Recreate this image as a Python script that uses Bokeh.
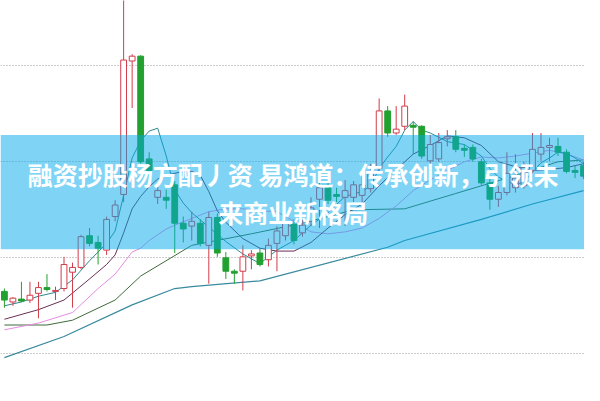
from bokeh.plotting import figure
from bokeh.models import BoxAnnotation, Label, FixedTicker, Range1d
from bokeh.embed import file_html
from bokeh.resources import INLINE

# ---- candle data (price units) ----
opens = [1.65, 1.54, 1.57, 1.56, 1.63, 1.69, 1.65, 1.68, 1.85, 1.90,
         2.23, 2.16, 2.08, 2.43, 2.66, 4.05, 4.10, 3.03, 2.63, 2.63,
         2.76, 2.36, 2.33, 2.36, 2.13, 2.42, 2.00, 1.86, 1.86, 2.02,
         2.05, 1.98, 2.15, 2.23, 2.35, 2.26, 2.38, 2.61, 2.73, 2.66,
         2.63, 2.63, 2.65, 2.72, 2.93, 3.53, 3.30, 3.37, 3.38, 3.37,
         3.01, 3.03, 3.24, 3.26, 3.14, 3.15, 3.00, 2.78, 2.61, 2.68,
         2.73, 2.75, 2.91, 3.08, 3.15, 3.16, 3.10, 2.91, 2.96]
closes = [1.56, 1.58, 1.55, 1.61, 1.69, 1.67, 1.66, 1.93, 1.90, 2.22,
          2.15, 2.10, 2.40, 2.55, 4.06, 4.10, 3.00, 2.91, 2.70, 2.60,
          2.36, 2.30, 2.38, 2.15, 2.42, 2.05, 1.86, 1.84, 2.01, 2.04,
          1.93, 2.13, 2.28, 2.36, 2.18, 2.34, 2.52, 2.73, 2.60, 2.64,
          2.70, 2.76, 2.76, 2.88, 3.53, 3.30, 3.34, 3.58, 3.36, 3.06,
          3.18, 3.20, 3.26, 3.13, 3.12, 3.03, 2.78, 2.61, 2.68, 2.88,
          2.83, 2.94, 3.13, 3.15, 3.17, 3.10, 2.90, 2.89, 2.85]
highs = [1.68, 1.59, 1.75, 1.75, 1.75, 1.83, 1.70, 2.01, 1.95, 2.24,
         2.31, 2.23, 2.43, 2.60, 4.73, 4.12, 4.11, 3.10, 2.78, 2.71,
         2.80, 2.43, 2.48, 2.40, 2.48, 2.46, 2.06, 1.88, 2.13, 2.08,
         2.10, 2.20, 2.33, 2.42, 2.40, 2.40, 2.63, 2.78, 2.78, 2.73,
         2.81, 2.80, 2.85, 2.98, 3.66, 3.58, 3.58, 3.70, 3.42, 3.38,
         3.28, 3.30, 3.33, 3.33, 3.18, 3.18, 3.03, 2.83, 2.75, 3.10,
         3.08, 3.00, 3.30, 3.30, 3.25, 3.25, 3.13, 2.96, 3.00]
lows = [1.48, 1.50, 1.54, 1.53, 1.37, 1.65, 1.56, 1.65, 1.48, 1.88,
        2.12, 1.93, 2.03, 2.38, 2.58, 3.56, 2.98, 2.83, 2.56, 2.51,
        2.05, 2.16, 2.18, 2.12, 1.73, 2.01, 1.78, 1.73, 1.66, 1.88,
        1.91, 1.91, 1.86, 2.18, 2.14, 2.22, 2.33, 2.31, 2.56, 2.58,
        2.33, 2.58, 2.56, 2.68, 2.88, 3.26, 3.28, 3.33, 3.08, 3.03,
        2.98, 3.00, 3.16, 3.10, 3.05, 3.00, 2.76, 2.50, 2.53, 2.65,
        2.68, 2.72, 2.88, 3.01, 3.01, 3.06, 2.88, 2.83, 2.82]

# ---- moving average lines (vertices read at candle indices) ----
ma5_idx = [0, 2, 4, 6, 8, 10, 12, 13, 14, 15, 16, 17, 18, 19, 20, 21, 22, 24, 26, 28,
           30, 32, 34, 36, 38, 40, 42, 43, 44, 45, 46, 47, 48, 49, 50, 52, 54, 56, 57,
           58, 59, 60, 61, 62, 63, 64, 65, 66, 67, 68]
ma5 = [1.50, 1.54, 1.60, 1.64, 1.77, 1.97, 2.15, 2.28, 2.65, 3.04, 3.22, 3.32, 3.35,
       3.06, 2.71, 2.57, 2.47, 2.32, 2.17, 2.04, 1.94, 2.08, 2.18, 2.34, 2.47, 2.64,
       2.69, 2.75, 2.93, 3.05, 3.16, 3.33, 3.42, 3.33, 3.30, 3.21, 3.18, 3.06, 2.93,
       2.84, 2.80, 2.76, 2.79, 2.89, 2.99, 3.04, 3.10, 3.09, 3.04, 2.98]

ma10_idx = [0, 4, 7, 10, 12, 13, 14, 15, 16, 17, 18, 19, 20, 21, 22, 23, 24, 25, 26,
            28, 30, 32, 34, 36, 38, 40, 42, 44, 46, 48, 50, 52, 54, 56, 58, 60, 62, 64,
            66, 68]
ma10 = [1.36, 1.46, 1.56, 1.78, 1.93, 2.03, 2.26, 2.51, 2.64, 2.74, 2.82, 2.86, 2.88,
        2.90, 2.90, 2.86, 2.69, 2.49, 2.37, 2.20, 2.10, 2.07, 2.07, 2.16, 2.31, 2.45,
        2.56, 2.75, 2.92, 3.08, 3.17, 3.27, 3.25, 3.17, 3.00, 2.95, 2.91, 2.92, 2.94,
        2.98]

ma20_idx = [0, 4, 8, 11, 13, 15, 16, 17, 19, 20, 22, 24, 26, 28, 30, 32, 34, 36, 38,
            40, 42, 44, 46, 48, 50, 52, 54, 56, 58, 60, 62, 64, 66, 68]
ma20 = [1.25, 1.32, 1.43, 1.68, 1.83, 2.06, 2.10, 2.18, 2.30, 2.34, 2.41, 2.48, 2.51,
        2.51, 2.49, 2.48, 2.38, 2.27, 2.25, 2.27, 2.31, 2.41, 2.54, 2.70, 2.81, 2.91,
        3.00, 3.05, 3.04, 3.06, 3.09, 3.12, 3.08, 3.02]

ma30_idx = [0, 5, 8, 13, 16, 22, 29, 35, 41, 47, 53, 59, 65, 68]
ma30 = [1.30, 1.30, 1.35, 1.56, 1.81, 2.13, 2.25, 2.36, 2.50, 2.51, 2.67, 2.83, 3.00, 3.02]

ma60_idx = [0, 7, 15, 20, 22, 30, 45, 47, 56, 62, 68]
ma60 = [0.96, 1.18, 1.51, 1.68, 1.70, 1.76, 2.11, 2.18, 2.40, 2.56, 2.70]

grid_ticks = [1, 2, 3, 4]

title_line1 = "融资抄股杨方配丿资 易鸿道：传承创新，引领未"
title_line2 = "来商业新格局"

UP = "#d23c4a"
DOWN = "#22a030"

idx = list(range(len(opens)))
is_up = [c >= o for o, c in zip(opens, closes)]
colors = [UP if u else DOWN for u in is_up]
fills = ["white" if u else DOWN for u in is_up]
tops = [max(o, c) for o, c in zip(opens, closes)]
bots = [min(o, c) for o, c in zip(opens, closes)]

p = figure(width=584, height=385, output_backend="svg", toolbar_location=None,
           x_range=Range1d(-0.457, 68.11), y_range=Range1d(0.67, 4.68),
           min_border=0, background_fill_color="white", border_fill_color="white")
p.outline_line_color = None
p.xaxis.visible = False
p.yaxis.visible = False
p.xgrid.visible = False
p.ygrid.ticker = FixedTicker(ticks=grid_ticks)
p.ygrid.grid_line_color = "#9a9a9a"
p.ygrid.grid_line_dash = "1 2"
p.ygrid.grid_line_width = 1

# moving averages
p.line(ma60_idx, ma60, line_color="#3a8a9e", line_width=1.2)
p.line(ma30_idx, ma30, line_color="#3f6b3a", line_width=1)
p.line(ma20_idx, ma20, line_color="#e58ce0", line_width=1)
p.line(ma10_idx, ma10, line_color="#6a2f55", line_width=1)
p.line(ma5_idx, ma5, line_color="#2f8790", line_width=1)

# candles
p.segment(x0=idx, y0=lows, x1=idx, y1=highs, line_color=colors, line_width=1)
p.vbar(x=idx, width=0.68, top=tops, bottom=bots, fill_color=fills, line_color=colors,
       line_width=1)

# banner
banner = BoxAnnotation(bottom=2.09, top=3.28, fill_color="#00a9eb", fill_alpha=0.5,
                       line_color=None)
p.add_layout(banner)

for t, yy in [(title_line1, 2.87), (title_line2, 2.48)]:
    p.add_layout(Label(x=33.9, y=yy, text=t, text_align="center", text_baseline="middle",
                       text_color="white", text_font="Noto Sans CJK SC",
                       text_font_style="bold", text_font_size="25px"))

open("out.html", "w").write(file_html(p, INLINE))
